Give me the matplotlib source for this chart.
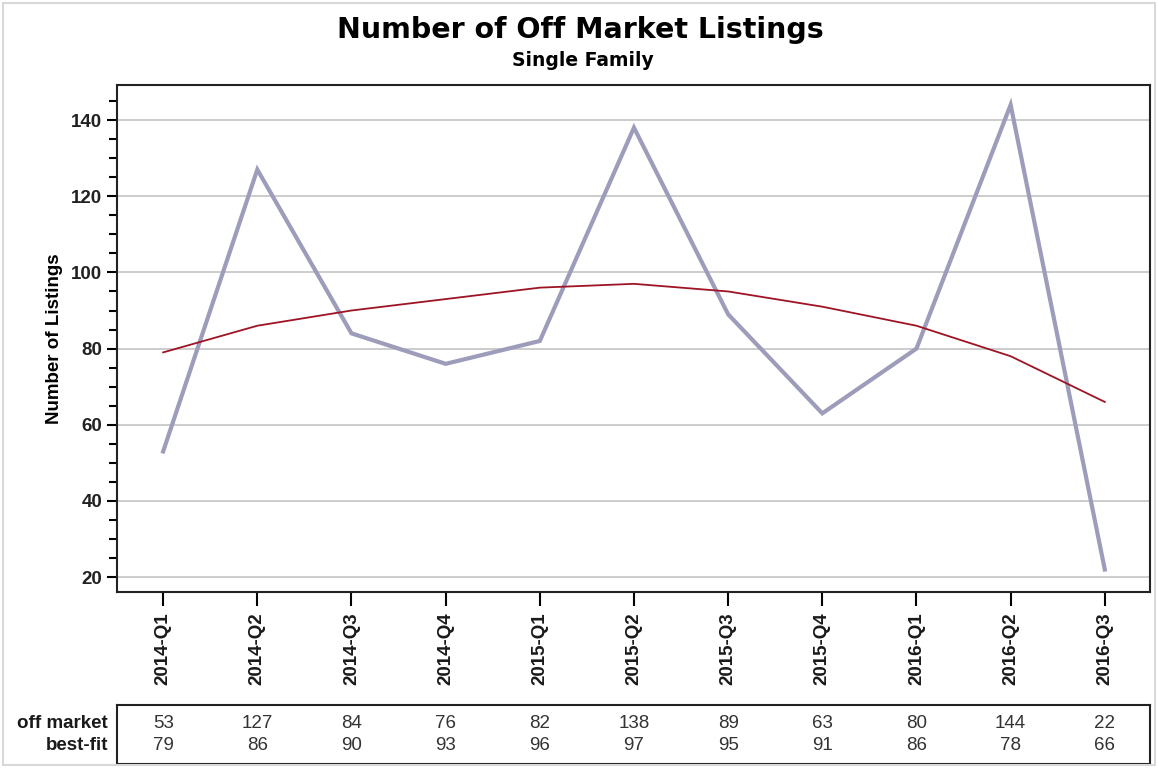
import matplotlib
matplotlib.use("Agg")
import matplotlib.pyplot as plt
from matplotlib.ticker import MultipleLocator
from matplotlib.patches import Rectangle

quarters = ["2014-Q1", "2014-Q2", "2014-Q3", "2014-Q4", "2015-Q1", "2015-Q2",
            "2015-Q3", "2015-Q4", "2016-Q1", "2016-Q2", "2016-Q3"]
off_market = [53, 127, 84, 76, 82, 138, 89, 63, 80, 144, 22]
best_fit = [79, 86, 90, 93, 96, 97, 95, 91, 86, 78, 66]
row_labels = ["off market", "best-fit"]

W, H = 1158, 768
fig = plt.figure(figsize=(W / 100, H / 100), dpi=100)
fig.patch.set_facecolor("white")

def box(x0, y0, x1, y1):
    return [x0 / W, 1 - y1 / H, (x1 - x0) / W, (y1 - y0) / H]

# figure border
fig.add_artist(Rectangle((3 / W, 3 / H), (W - 6) / W, (H - 6) / H, transform=fig.transFigure,
                         fill=False, edgecolor="#d8d8d8", linewidth=1.5))

ax = fig.add_axes(box(117, 85, 1150, 592))
x = list(range(len(quarters)))
ax.plot(x, off_market, color="#9d9dbb", linewidth=3, solid_joinstyle="miter", zorder=3)
ax.plot(x, best_fit, color="#9e1424", linewidth=1.3, zorder=4)
ax.set_xlim(-0.49, 10.48)
ax.set_ylim(16.1, 149.2)
ax.yaxis.set_major_locator(MultipleLocator(20))
ax.yaxis.set_minor_locator(MultipleLocator(5))
ax.grid(axis="y", which="major", color="#c4c4c4", linewidth=1.2)
ax.set_axisbelow(True)
ax.set_xticks(x)
ax.set_xticklabels(quarters, rotation=90, fontweight="bold", fontsize=13.5,
                   family="Liberation Sans", color="#1a1a1a")
ax.tick_params(axis="x", length=10, width=1.5, pad=4.5)
ax.tick_params(axis="y", which="major", length=7.5, width=1.5, labelsize=13.5, pad=3,
               labelcolor="#222222")
ax.tick_params(axis="y", which="minor", length=6, width=1.5)
for lab in ax.get_yticklabels():
    lab.set_fontweight("bold")
    lab.set_family("Liberation Sans")
for sp in ax.spines.values():
    sp.set_linewidth(1.5)
    sp.set_color("#222222")
ax.set_ylabel("Number of Listings", fontweight="bold", fontsize=13.5,
              family="Liberation Sans", labelpad=6)

fig.text(580 / W, 1 - 30 / H, "Number of Off Market Listings", ha="center", va="center",
         fontsize=20.5, fontweight="bold", family="DejaVu Sans")
fig.text(583 / W, 1 - 61 / H, "Single Family", ha="center", va="center",
         fontsize=13.5, fontweight="bold", family="DejaVu Sans")

# data table
tax = fig.add_axes(box(117, 705, 1150, 764))
tax.set_xlim(ax.get_xlim())
tax.set_ylim(764, 705)
tax.set_xticks([])
tax.set_yticks([])
for sp in tax.spines.values():
    sp.set_linewidth(1.5)
    sp.set_color("#222222")
row_y = [723, 746]
for row, vals in enumerate([off_market, best_fit]):
    for xi, v in zip(x, vals):
        tax.text(xi, row_y[row], str(v), ha="center", va="center", fontsize=13.5,
                 family="Liberation Sans", color="#333333")
    fig.text(108 / W, 1 - row_y[row] / H, row_labels[row], ha="right", va="center",
             fontsize=13.5, fontweight="bold", family="Liberation Sans", color="#1a1a1a")

fig.savefig("out.png", dpi=100)
